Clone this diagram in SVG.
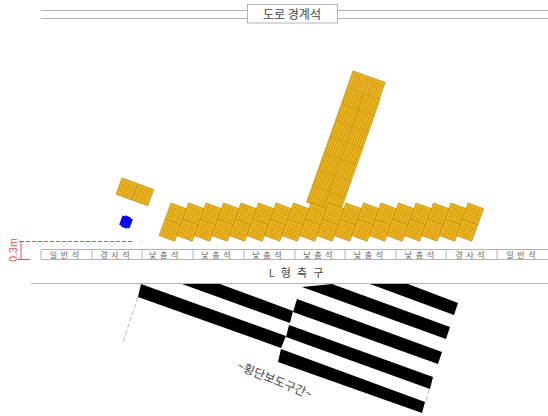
<svg xmlns="http://www.w3.org/2000/svg" width="548" height="416" viewBox="0 0 548 416">
<style>
.l{stroke:#b4b4b4;stroke-width:1;fill:none}
.k{font-family:"Noto Sans CJK KR","Liberation Sans",sans-serif;fill:#444;text-anchor:middle}
.c{font-size:8px;letter-spacing:3.6px;fill:#666}
.b{fill:#f0b61c;stroke:#b08212;stroke-width:.6}
.t{fill:url(#dot)}
.s{fill:url(#rib);stroke:#c6960f;stroke-width:.6}
.r{stroke:#e0505a;stroke-width:1;fill:none}
</style>
<defs>
<pattern id="dot" width="2.400" height="2.400" patternUnits="userSpaceOnUse"><rect width="2.400" height="2.400" fill="#f0b61c"/><rect x=".7" y=".7" width="1" height="1" fill="#a07818"/></pattern>
<pattern id="rib" width="2.400" height="4" patternUnits="userSpaceOnUse"><rect width="2.400" height="4" fill="#f0b61c"/><rect x=".9" width=".7" height="4" fill="#c09014"/></pattern>
<g id="cell"><rect class="b" width="16.600" height="17.300"/><rect class="t" x="1.300" y="1.400" width="14" height="14.500"/></g>
<g id="tile"><use href="#cell"/><use href="#cell" y="17.300"/></g>
<path id="rowtile" class="s" d="M0 0h17.500v17.400H0z"/>
</defs>
<rect width="548" height="416" fill="#fff"/>
<g id="connectors">
<path class="l" d="M41 10.500H247M41 18.500H247M337 10.500H548M337 18.500H548M31 283.500H548"/>
<path d="M138 297L123 342M429 389L426 402" stroke="#aaa" stroke-width=".8" stroke-dasharray="5 2" fill="none"/>
</g>
<g id="road-curb"><rect x="247.500" y="4.500" width="90" height="18.500" fill="#fff" stroke="#b4b4b4"/><text class="k" x="292" y="19" font-size="12">도로 경계석</text></g>
<g id="curb-row">
<path class="l" d="M41 249.500H548M41 259.500H548M41 249.500V259.500M92 249.500V259.500M142 249.500V259.500M193 249.500V259.500M244 249.500V259.500M295 249.500V259.500M345 249.500V259.500M396 249.500V259.500M446 249.500V259.500M497 249.500V259.500"/>
<g class="k c"><text x="66.300" y="258">일반석</text><text x="116.800" y="258">경사석</text><text x="165.500" y="258">낮춤석</text><text x="217.800" y="258">낮춤석</text><text x="268.800" y="258">낮춤석</text><text x="319.800" y="258">낮춤석</text><text x="370.300" y="258">낮춤석</text><text x="421.300" y="258">낮춤석</text><text x="471.800" y="258">경사석</text><text x="522.800" y="258">일반석</text></g>
</g>
<g id="l-gutter"><text class="k" x="297" y="277" font-size="11" letter-spacing="1.800">L 형 측 구</text></g>
<g id="height-mark">
<path class="r" stroke-dasharray="4 2" d="M20 241.500H133"/>
<path class="r" d="M19 241.500H24M21 241.500V259.500M18 259.500H30"/>
<text transform="translate(17 250) rotate(-90)" font-family="Liberation Sans,sans-serif" font-size="10.500" fill="#e0505a" text-anchor="middle">0.3m</text>
</g>
<g id="blue-block"><rect x="-5.500" y="-5" width="11" height="10" fill="#0808e8" transform="translate(126 222) rotate(20)"/><rect x="-3" y="-6" width="6" height="12" fill="#0808e8" transform="translate(126 222) rotate(20)"/></g>
<g id="single-block" transform="translate(122 178) rotate(20)"><use href="#cell"/><use href="#cell" x="17"/></g>
<g id="tactile-column" transform="translate(353 71) rotate(19.500)">
<use href="#cell"/><use href="#cell" x="17.500"/>
<use href="#rowtile" y="17.400"/><use href="#rowtile" x="17.500" y="17.400"/><use href="#rowtile" y="34.800"/><use href="#rowtile" x="17.500" y="34.800"/><use href="#rowtile" y="52.200"/><use href="#rowtile" x="17.500" y="52.200"/><use href="#rowtile" y="69.600"/><use href="#rowtile" x="17.500" y="69.600"/><use href="#rowtile" y="87"/><use href="#rowtile" x="17.500" y="87"/><use href="#rowtile" y="104.400"/><use href="#rowtile" x="17.500" y="104.400"/><use href="#rowtile" y="121.800"/><use href="#rowtile" x="17.500" y="121.800"/>
</g>
<g id="tactile-row">
<use href="#tile" transform="translate(171 203) rotate(20)"/><use href="#tile" transform="translate(188.500 203) rotate(20)"/><use href="#tile" transform="translate(206 203) rotate(20)"/><use href="#tile" transform="translate(223.500 203) rotate(20)"/><use href="#tile" transform="translate(241 203) rotate(20)"/><use href="#tile" transform="translate(258.500 203) rotate(20)"/><use href="#tile" transform="translate(276 203) rotate(20)"/><use href="#tile" transform="translate(293.500 203) rotate(20)"/><use href="#tile" transform="translate(311 203) rotate(20)"/><use href="#tile" transform="translate(328.500 203) rotate(20)"/><use href="#tile" transform="translate(346 203) rotate(20)"/><use href="#tile" transform="translate(363.500 203) rotate(20)"/><use href="#tile" transform="translate(381 203) rotate(20)"/><use href="#tile" transform="translate(398.500 203) rotate(20)"/><use href="#tile" transform="translate(416 203) rotate(20)"/><use href="#tile" transform="translate(433.500 203) rotate(20)"/><use href="#tile" transform="translate(451 203) rotate(20)"/><use href="#tile" transform="translate(468 203) rotate(20)"/>
</g>
<g id="crosswalk" fill="#000">
<path d="M141 284L138 297L281 348L286 336Z"/>
<path d="M182 284H220L293 311L290 323Z"/>
<path d="M370 284H408L458 303L454 315Z"/>
<path d="M302 287L332 284L450 327L446 339Z"/>
<path d="M297 299L442 352L438 364L293 312Z"/>
<path d="M289 325L433 377L430 389L286 337Z"/>
<path d="M281 349L425 402L422 413L278 362Z"/>
</g>
<g id="crosswalk-label"><text class="k" transform="translate(273 384) rotate(22)" font-size="12">~횡단보도구간~</text></g>
</svg>
